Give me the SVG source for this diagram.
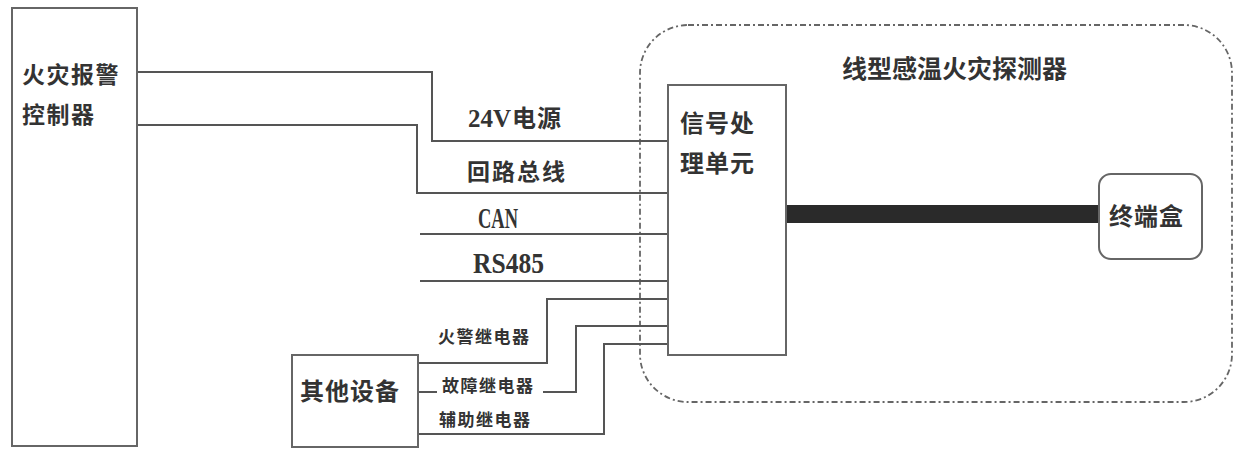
<svg xmlns="http://www.w3.org/2000/svg" width="1245" height="450" viewBox="0 0 1245 450">
<style>
.box{fill:#fff;stroke:#666;stroke-width:2}
.wire{fill:none;stroke:#555;stroke-width:2}
.dash{fill:none;stroke:#666;stroke-width:1.8;stroke-dasharray:6 3 2 3}
.cjk{font-family:"Noto Sans CJK SC","Noto Sans",sans-serif;font-weight:bold;fill:#333}
.lat{font-family:"Liberation Serif",serif;font-weight:bold;fill:#333}
.big{font-size:23px;letter-spacing:1.5px}
.mid{font-size:24px;letter-spacing:1px}
.sm{font-size:17px;letter-spacing:1.5px}
</style>
<rect width="1245" height="450" fill="#fff"/>
<g id="detector">
<rect class="dash" x="640" y="25" width="592" height="377" rx="48" ry="48"/>
<text class="cjk" x="842" y="78" style="font-size:25px">线型感温火灾探测器</text>
</g>
<g id="connectors">
<polyline class="wire" points="137,72 432,72 432,141 668,141"/>
<polyline class="wire" points="137,125 417,125 417,193 668,193"/>
<line class="wire" x1="420" y1="234" x2="668" y2="234"/>
<line class="wire" x1="420" y1="281" x2="668" y2="281"/>
<polyline class="wire" points="418,363 547,363 547,299 668,299"/>
<line class="wire" x1="418" y1="392" x2="437" y2="392"/>
<polyline class="wire" points="543,392 576,392 576,326 668,326"/>
<polyline class="wire" points="418,434 604,434 604,344 668,344"/>
<rect x="786" y="205" width="313" height="18" fill="#2a2a2a"/>
</g>
<g id="labels">
<text x="468" y="127"><tspan class="lat" style="font-size:25px">24V</tspan><tspan class="cjk" dx="1" style="font-size:24px;letter-spacing:1px">电源</tspan></text>
<text class="cjk" x="467" y="180" style="font-size:23px;letter-spacing:2px">回路总线</text>
<text class="lat" x="478" y="228" style="font-size:29px" textLength="40" lengthAdjust="spacingAndGlyphs">CAN</text>
<text class="lat" x="473" y="273" style="font-size:29px" textLength="71" lengthAdjust="spacingAndGlyphs">RS485</text>
<text class="cjk sm" x="438" y="343">火警继电器</text>
<text class="cjk sm" x="442" y="392">故障继电器</text>
<text class="cjk sm" x="439" y="426">辅助继电器</text>
</g>
<g id="controller">
<rect class="box" x="12" y="8" width="125" height="438"/>
<text class="cjk big" x="22" y="83">火灾报警</text>
<text class="cjk big" x="22" y="123">控制器</text>
</g>
<g id="other">
<rect class="box" x="292" y="355" width="126" height="92"/>
<text class="cjk mid" x="300" y="400">其他设备</text>
</g>
<g id="signal">
<rect class="box" x="668" y="85" width="118" height="270"/>
<text class="cjk mid" x="680" y="132">信号处</text>
<text class="cjk mid" x="680" y="172">理单元</text>
</g>
<g id="terminal">
<rect class="box" x="1099" y="174" width="103" height="85" rx="12" ry="12"/>
<text class="cjk mid" x="1109" y="225">终端盒</text>
</g>
</svg>
